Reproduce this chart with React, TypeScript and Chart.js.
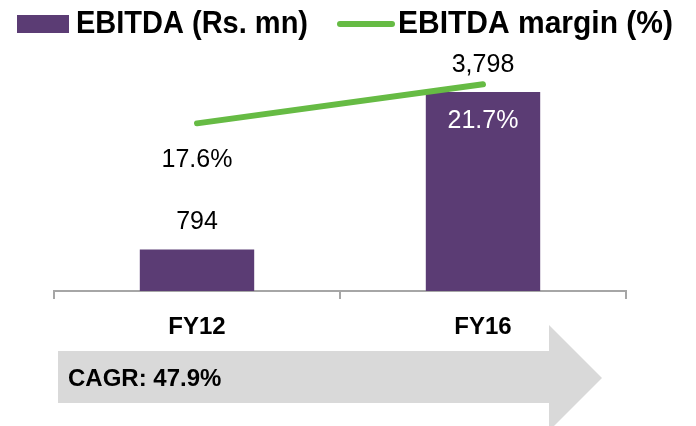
import React, { useEffect, useRef } from "react";
import { Chart, registerables } from "chart.js";

Chart.register(...registerables);

const categories = ["FY12", "FY16"];
const ebitdaValues = [794, 3798];
const ebitdaLabels = ["794", "3,798"];
const marginValues = [17.6, 21.7];
const marginLabels = ["17.6%", "21.7%"];
const marginLabelColors = ["#000000", "#ffffff"];
const seriesNames = ["EBITDA (Rs. mn)", "EBITDA margin (%)"];
const cagrText = "CAGR: 47.9%";

const PURPLE = "#5b3c74";
const GREEN = "#66bb44";
const FONT = "'Liberation Sans', Arial, sans-serif";

function drawFitText(ctx: CanvasRenderingContext2D, text: string, x: number, y: number, width: number) {
  const w = ctx.measureText(text).width;
  const s = Math.min(1, width / w);
  ctx.save();
  ctx.translate(x, y);
  ctx.scale(s, 1);
  ctx.fillText(text, 0, 0);
  ctx.restore();
}

const overlayPlugin = {
  id: "overlay",
  beforeDraw(chart: any) {
    const ctx = chart.ctx;
    ctx.save();
    // CAGR arrow
    ctx.fillStyle = "#d9d9d9";
    ctx.beginPath();
    ctx.moveTo(58, 351);
    ctx.lineTo(549, 351);
    ctx.lineTo(549, 325);
    ctx.lineTo(602, 378);
    ctx.lineTo(549, 431);
    ctx.lineTo(549, 403);
    ctx.lineTo(58, 403);
    ctx.closePath();
    ctx.fill();
    ctx.fillStyle = "#000";
    ctx.font = `bold 24px ${FONT}`;
    ctx.textBaseline = "middle";
    ctx.textAlign = "left";
    ctx.fillText(cagrText, 68, 379);
    ctx.restore();
  },
  afterDatasetsDraw(chart: any) {
    const ctx = chart.ctx;
    ctx.save();
    ctx.font = `25px ${FONT}`;
    ctx.textAlign = "center";
    ctx.textBaseline = "middle";
    const barMeta = chart.getDatasetMeta(1);
    barMeta.data.forEach((el: any, i: number) => {
      ctx.fillStyle = "#000";
      ctx.fillText(ebitdaLabels[i], el.x, el.y - 27);
    });
    const lineMeta = chart.getDatasetMeta(0);
    lineMeta.data.forEach((el: any, i: number) => {
      ctx.fillStyle = marginLabelColors[i];
      ctx.fillText(marginLabels[i], el.x, el.y + 37);
    });
    ctx.restore();
  },
  afterDraw(chart: any) {
    const ctx = chart.ctx;
    ctx.save();
    // legend
    ctx.fillStyle = PURPLE;
    ctx.fillRect(17, 15, 52, 18);
    ctx.fillStyle = "#000";
    ctx.font = `bold 31px ${FONT}`;
    ctx.textBaseline = "middle";
    ctx.textAlign = "left";
    drawFitText(ctx, seriesNames[0], 76, 24, 232);
    ctx.strokeStyle = GREEN;
    ctx.lineWidth = 6;
    ctx.lineCap = "round";
    ctx.beginPath();
    ctx.moveTo(340, 24);
    ctx.lineTo(392, 24);
    ctx.stroke();
    drawFitText(ctx, seriesNames[1], 398, 24, 275);
    ctx.restore();
  },
};

export default function App() {
  const ref = useRef<HTMLCanvasElement>(null);
  useEffect(() => {
    if (!ref.current) return;
    const chart = new Chart(ref.current, {
      type: "bar",
      data: {
        labels: categories,
        datasets: [
          {
            type: "line",
            label: seriesNames[1],
            data: marginValues,
            borderColor: GREEN,
            backgroundColor: GREEN,
            borderWidth: 6,
            borderCapStyle: "round",
            pointRadius: 0,
            yAxisID: "y1",
            order: 0,
          } as any,
          {
            type: "bar",
            label: seriesNames[0],
            data: ebitdaValues,
            backgroundColor: PURPLE,
            barPercentage: 0.4,
            categoryPercentage: 1,
            yAxisID: "y",
            order: 1,
          },
        ],
      },
      options: {
        animation: false,
        responsive: false,
        layout: { padding: { top: 50, left: 54, right: 70, bottom: 0 } },
        plugins: { legend: { display: false }, tooltip: { enabled: false } },
        scales: {
          x: {
            type: "category",
            offset: true,
            grid: {
              offset: true,
              drawOnChartArea: false,
              drawTicks: true,
              tickLength: 8,
              color: "#a6a6a6",
              lineWidth: 2,
            },
            border: { display: true, color: "#a6a6a6", width: 2 },
            ticks: {
              color: "#000",
              font: { family: FONT, size: 24, weight: "bold" },
              padding: 14,
            },
            afterFit: (scale: any) => {
              scale.height = 135;
            },
          },
          y: { display: false, min: 0, max: 4600 },
          y1: { display: false, min: 0, max: 25.3, position: "right" },
        },
      },
      plugins: [overlayPlugin],
    });
    return () => chart.destroy();
  }, []);
  return (
    <div style={{ position: "absolute", left: 0, top: 0, width: 696, height: 426, background: "#fff" }}>
      <canvas ref={ref} width={696} height={426} />
    </div>
  );
}
